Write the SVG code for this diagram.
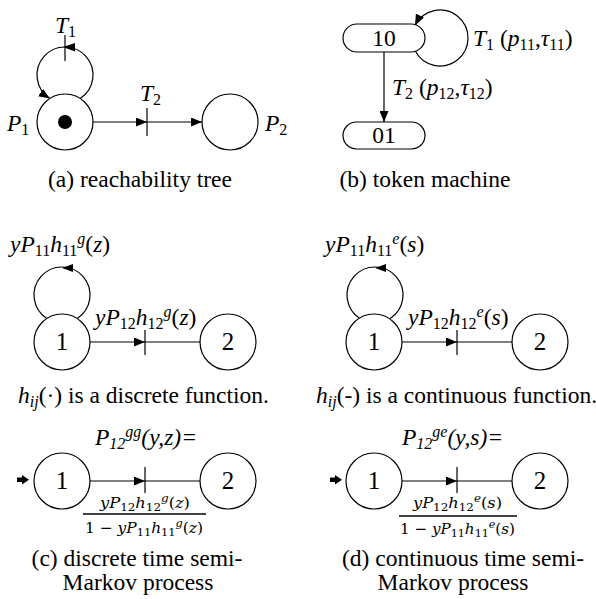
<svg xmlns="http://www.w3.org/2000/svg" width="596" height="599" viewBox="0 0 596 599">
<defs>
<style>
.t{font-family:"Liberation Serif","Times New Roman",serif;font-size:23.5px;fill:#000}
.cap{font-family:"Liberation Serif","Times New Roman",serif;font-size:23.5px;fill:#000;text-anchor:middle}
.num{font-family:"Liberation Serif","Times New Roman",serif;font-size:25px;fill:#000;text-anchor:middle}
.fr{font-family:"DejaVu Serif","Liberation Serif",serif;font-size:15px;fill:#000}
.i{font-style:italic}
.sub{font-size:16px}
.ln{fill:none;stroke:#000;stroke-width:1.2}
.node{fill:#fff;stroke:#000;stroke-width:1.2}
</style>
<marker id="ah" markerWidth="11" markerHeight="9" refX="11" refY="4.5" orient="auto" markerUnits="userSpaceOnUse">
<path d="M0,0 L11,4.5 L0,9 z" fill="#000"/>
</marker>
</defs>
<rect width="596" height="599" fill="#fff"/>

<!-- connectors -->
<g id="connectors">
<!-- (a) -->
<path class="ln" d="M80.2,98.5 A28,28 0 1 0 49.8,98.5" marker-end="url(#ah)"/>
<polygon points="63,47 75,43 75,51.5" fill="#000"/>
<line class="ln" x1="65" y1="35" x2="65" y2="61"/>
<line class="ln" x1="93" y1="122" x2="147" y2="122" marker-end="url(#ah)"/>
<line class="ln" x1="147" y1="122" x2="202" y2="122" marker-end="url(#ah)"/>
<line class="ln" x1="147" y1="108" x2="147" y2="136"/>
<!-- (b) -->
<path class="ln" d="M415,50.6 A28,28 0 1 0 415,25.4" marker-end="url(#ah)"/>
<line class="ln" x1="384" y1="52" x2="384" y2="122" marker-end="url(#ah)"/>
<!-- (c) top -->
<path class="ln" d="M77.2,318.5 A28,28 0 1 0 46.8,318.5"/>
<polygon points="62,268 73,264 73,272" fill="#000"/>
<line class="ln" x1="90" y1="342" x2="145" y2="342" marker-end="url(#ah)"/>
<line class="ln" x1="145" y1="342" x2="200" y2="342"/>
<line class="ln" x1="145" y1="330" x2="145" y2="355"/>
<!-- (d) top -->
<path class="ln" d="M390.2,318.5 A28,28 0 1 0 359.8,318.5"/>
<polygon points="375,268 386,264 386,272" fill="#000"/>
<line class="ln" x1="402" y1="342" x2="457" y2="342" marker-end="url(#ah)"/>
<line class="ln" x1="457" y1="342" x2="512" y2="342"/>
<line class="ln" x1="457" y1="330" x2="457" y2="355"/>
<!-- (c) bottom -->
<polygon points="17,477.5 22,477.5 22,475 29,479.8 22,484.5 22,482 17,482" fill="#000"/>
<line class="ln" x1="90" y1="481" x2="145" y2="481" marker-end="url(#ah)"/>
<line class="ln" x1="145" y1="481" x2="200" y2="481"/>
<line class="ln" x1="145" y1="467" x2="145" y2="493"/>
<!-- (d) bottom -->
<polygon points="330,477.5 335,477.5 335,475 342,479.8 335,484.5 335,482 330,482" fill="#000"/>
<line class="ln" x1="402" y1="481" x2="457" y2="481" marker-end="url(#ah)"/>
<line class="ln" x1="457" y1="481" x2="512" y2="481"/>
<line class="ln" x1="457" y1="467" x2="457" y2="493"/>
</g>

<!-- (a) nodes -->
<g id="P1">
<circle class="node" cx="65" cy="122" r="28"/>
<circle cx="65" cy="122" r="7" fill="#000"/>
<text class="t" x="7" y="131"><tspan class="i">P</tspan><tspan class="sub" dy="4">1</tspan></text>
</g>
<g id="P2">
<circle class="node" cx="230" cy="122" r="28"/>
<text class="t" x="265" y="131"><tspan class="i">P</tspan><tspan class="sub" dy="4">2</tspan></text>
</g>
<g id="T1">
<text class="t" x="55" y="33"><tspan class="i">T</tspan><tspan class="sub" dy="4">1</tspan></text>
</g>
<g id="T2">
<text class="t" x="140" y="101"><tspan class="i">T</tspan><tspan class="sub" dy="4">2</tspan></text>
</g>
<text class="cap" x="140" y="187">(a) reachability tree</text>

<!-- (b) nodes -->
<g id="S10">
<rect class="node" x="343" y="24" width="82" height="28" rx="14"/>
<text class="t" x="384" y="46" text-anchor="middle">10</text>
</g>
<g id="S01">
<rect class="node" x="343" y="122" width="82" height="27" rx="13.5"/>
<text class="t" x="384" y="143" text-anchor="middle">01</text>
</g>
<text class="t" x="473" y="46"><tspan class="i">T</tspan><tspan class="sub" dy="4">1</tspan><tspan dy="-4"> (</tspan><tspan class="i">p</tspan><tspan class="sub" dy="4">11</tspan><tspan dy="-4">,</tspan><tspan class="i">τ</tspan><tspan class="sub" dy="4">11</tspan><tspan dy="-4">)</tspan></text>
<text class="t" x="392" y="95"><tspan class="i">T</tspan><tspan class="sub" dy="4">2</tspan><tspan dy="-4"> (</tspan><tspan class="i">p</tspan><tspan class="sub" dy="4">12</tspan><tspan dy="-4">,</tspan><tspan class="i">τ</tspan><tspan class="sub" dy="4">12</tspan><tspan dy="-4">)</tspan></text>
<text class="cap" x="425" y="187">(b) token machine</text>

<!-- (c) top -->
<g id="c1">
<circle class="node" cx="62" cy="342" r="28"/>
<text class="num" x="62" y="350">1</text>
</g>
<g id="c2">
<circle class="node" cx="228" cy="342" r="28"/>
<text class="num" x="228" y="350">2</text>
</g>
<text class="t" x="10" y="252"><tspan class="i">yP</tspan><tspan class="sub" dy="4">11</tspan><tspan class="i" dy="-4">h</tspan><tspan class="sub" dy="4">11</tspan><tspan class="sub i" dy="-12">g</tspan><tspan dy="8">(</tspan><tspan class="i">z</tspan>)</text>
<text class="t" x="95" y="325"><tspan class="i">yP</tspan><tspan class="sub" dy="4">12</tspan><tspan class="i" dy="-4">h</tspan><tspan class="sub" dy="4">12</tspan><tspan class="sub i" dy="-12">g</tspan><tspan dy="8">(</tspan><tspan class="i">z</tspan>)</text>
<text class="t" x="18" y="403"><tspan class="i">h</tspan><tspan class="sub i" dy="4">ij</tspan><tspan dy="-4">(·) is a discrete function.</tspan></text>

<!-- (d) top -->
<g id="d1">
<circle class="node" cx="374" cy="342" r="28"/>
<text class="num" x="374" y="350">1</text>
</g>
<g id="d2">
<circle class="node" cx="540" cy="342" r="28"/>
<text class="num" x="540" y="350">2</text>
</g>
<text class="t" x="325" y="252"><tspan class="i">yP</tspan><tspan class="sub" dy="4">11</tspan><tspan class="i" dy="-4">h</tspan><tspan class="sub" dy="4">11</tspan><tspan class="sub i" dy="-12">e</tspan><tspan dy="8">(</tspan><tspan class="i">s</tspan>)</text>
<text class="t" x="408" y="325"><tspan class="i">yP</tspan><tspan class="sub" dy="4">12</tspan><tspan class="i" dy="-4">h</tspan><tspan class="sub" dy="4">12</tspan><tspan class="sub i" dy="-12">e</tspan><tspan dy="8">(</tspan><tspan class="i">s</tspan>)</text>
<text class="t" x="316" y="403" font-size="23"><tspan class="i">h</tspan><tspan class="sub i" dy="4">ij</tspan><tspan dy="-4">(-) is a continuous function.</tspan></text>

<!-- (c) bottom -->
<g id="c3">
<circle class="node" cx="62" cy="481" r="28"/>
<text class="num" x="62" y="489">1</text>
</g>
<g id="c4">
<circle class="node" cx="228" cy="481" r="28"/>
<text class="num" x="228" y="489">2</text>
</g>
<text class="t i" x="95" y="445">P<tspan class="sub" dy="4">12</tspan><tspan class="sub" dy="-12">gg</tspan><tspan dy="8">(y,z)=</tspan></text>
<text class="fr" x="100" y="508" textLength="90" lengthAdjust="spacingAndGlyphs"><tspan class="i">yP</tspan><tspan font-size="11" dy="3">12</tspan><tspan class="i" dy="-3">h</tspan><tspan font-size="11" dy="3">12</tspan><tspan class="i" font-size="11" dy="-9">g</tspan><tspan dy="6">(</tspan><tspan class="i">z</tspan>)</text>
<line x1="83" y1="514" x2="206" y2="514" stroke="#000" stroke-width="1.6"/>
<text class="fr" x="85" y="533" textLength="118" lengthAdjust="spacingAndGlyphs">1 − <tspan class="i">yP</tspan><tspan font-size="11" dy="3">11</tspan><tspan class="i" dy="-3">h</tspan><tspan font-size="11" dy="3">11</tspan><tspan class="i" font-size="11" dy="-9">g</tspan><tspan dy="6">(</tspan><tspan class="i">z</tspan>)</text>
<text class="cap" x="137" y="566">(c) discrete time semi-</text>
<text class="cap" x="138" y="590">Markov process</text>

<!-- (d) bottom -->
<g id="d3">
<circle class="node" cx="374" cy="481" r="28"/>
<text class="num" x="374" y="489">1</text>
</g>
<g id="d4">
<circle class="node" cx="540" cy="481" r="28"/>
<text class="num" x="540" y="489">2</text>
</g>
<text class="t i" x="402" y="445">P<tspan class="sub" dy="4">12</tspan><tspan class="sub" dy="-12">ge</tspan><tspan dy="8">(y,s)=</tspan></text>
<text class="fr" x="413" y="508" textLength="89" lengthAdjust="spacingAndGlyphs"><tspan class="i">yP</tspan><tspan font-size="11" dy="3">12</tspan><tspan class="i" dy="-3">h</tspan><tspan font-size="11" dy="3">12</tspan><tspan class="i" font-size="11" dy="-9">e</tspan><tspan dy="6">(</tspan><tspan class="i">s</tspan>)</text>
<line x1="399" y1="516" x2="517" y2="516" stroke="#000" stroke-width="1.6"/>
<text class="fr" x="400" y="534" textLength="115" lengthAdjust="spacingAndGlyphs">1 − <tspan class="i">yP</tspan><tspan font-size="11" dy="3">11</tspan><tspan class="i" dy="-3">h</tspan><tspan font-size="11" dy="3">11</tspan><tspan class="i" font-size="11" dy="-9">e</tspan><tspan dy="6">(</tspan><tspan class="i">s</tspan>)</text>
<text class="cap" x="463" y="566">(d) continuous time semi-</text>
<text class="cap" x="453" y="590">Markov process</text>
</svg>
